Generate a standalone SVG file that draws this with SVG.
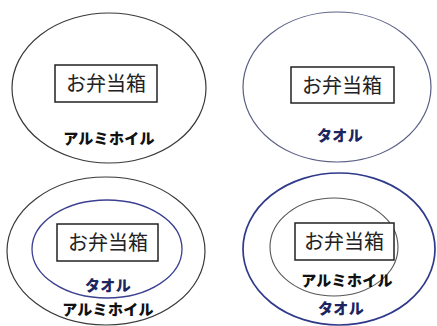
<svg xmlns="http://www.w3.org/2000/svg" width="437" height="326" viewBox="0 0 437 326">
<style>
.gray{fill:none;stroke:#3a3a3a;stroke-width:1.2}
.lgray{fill:none;stroke:#555;stroke-width:1.1}
.blue{fill:none;stroke:#3b4190;stroke-width:1.3}
.blue2{fill:none;stroke:#2f3a8a;stroke-width:1.7}
.slate{fill:none;stroke:#5a5f85;stroke-width:1.2}
.box{fill:#fff;stroke:#222;stroke-width:1.5}
.bt{font-family:"Noto Sans CJK JP","Noto Sans",sans-serif;font-size:20px;fill:#222;text-anchor:middle}
.lb{font-family:"Noto Sans CJK JP","Noto Sans",sans-serif;font-size:15px;font-weight:900;text-anchor:middle;letter-spacing:0.3px}
.k{fill:#111}
.n{fill:#1c2560}
</style>
<rect width="437" height="326" fill="#fff"/>
<g id="tl">
<ellipse class="gray" cx="109" cy="88" rx="97" ry="75"/>
<rect class="box" x="55" y="65" width="102" height="37"/>
<text class="bt" x="106" y="91">お弁当箱</text>
<text class="lb k" x="109" y="144">アルミホイル</text>
</g>
<g id="tr">
<ellipse class="slate" cx="337" cy="87" rx="94" ry="75"/>
<rect class="box" x="291" y="67" width="103" height="36"/>
<text class="bt" x="342" y="93">お弁当箱</text>
<text class="lb n" x="340" y="141">タオル</text>
</g>
<g id="bl">
<ellipse class="gray" cx="106" cy="251" rx="99" ry="74"/>
<ellipse class="blue" cx="107" cy="249" rx="75" ry="49"/>
<rect class="box" x="57" y="224" width="101" height="37"/>
<text class="bt" x="108" y="250">お弁当箱</text>
<text class="lb n" x="108" y="291">タオル</text>
<text class="lb k" x="108" y="315">アルミホイル</text>
</g>
<g id="br">
<ellipse class="blue2" cx="339" cy="249" rx="96" ry="76"/>
<ellipse class="lgray" cx="334" cy="247" rx="64" ry="49"/>
<rect class="box" x="295" y="223" width="99" height="37"/>
<text class="bt" x="344" y="249">お弁当箱</text>
<text class="lb k" x="347" y="286">アルミホイル</text>
<text class="lb n" x="341" y="314">タオル</text>
</g>
<g id="connectors"/>
</svg>
